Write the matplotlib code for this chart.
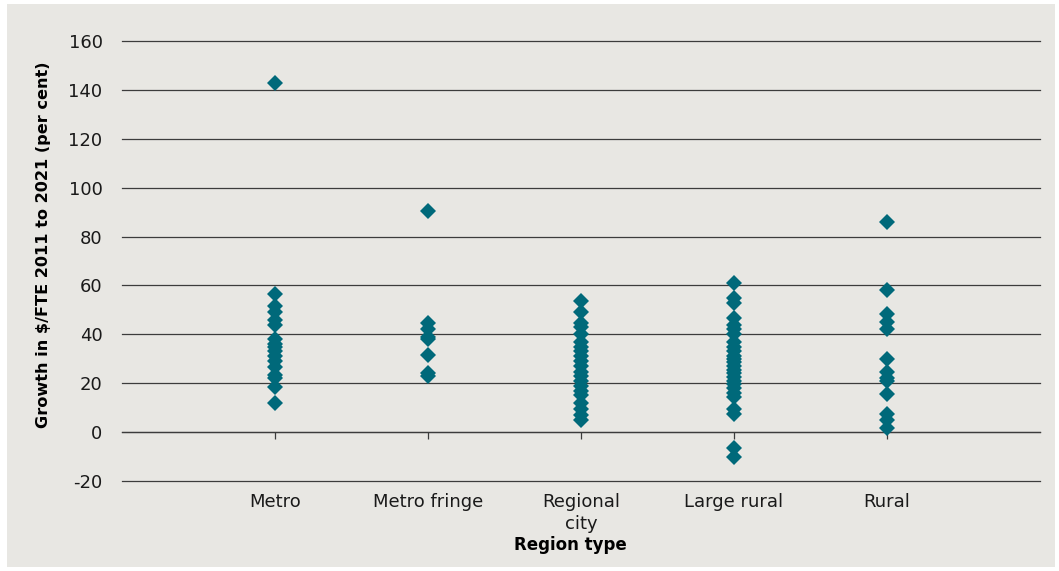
import matplotlib.pyplot as plt
from matplotlib.patches import Rectangle

plt.rcParams['font.family'] = ['DejaVu Sans']
plt.rcParams['axes.unicode_minus'] = False

categories = ['Metro', 'Metro fringe', 'Regional\ncity', 'Large rural', 'Rural']

# growth in $/FTE 2011 to 2021 (per cent)
metro = [143, 56.5, 51.5, 49, 46, 44, 38, 36, 35, 33, 31, 29, 26.5, 23.5, 22,
         18.5, 12]
metro_fringe = [90.5, 44.5, 42, 39, 38, 31.5, 24, 23]
regional_city = [53.5, 49, 44.5, 43, 40, 37, 35, 33, 31, 29, 27, 24.5, 23, 21,
                 19, 17, 15, 12, 9.5, 7, 5]
large_rural = [61, 55, 53, 46.5, 44, 42, 40, 37, 35, 33, 31, 30, 28.5, 27, 25.5,
               24, 22.5, 21, 19.5, 18, 16, 14.5, 9.5, 7.5, -6.5, -10]
rural = [86, 58, 48.5, 45, 42, 30, 24.5, 22, 21, 15.5, 7.5, 5, 1.5]

series = [metro, metro_fringe, regional_city, large_rural, rural]

teal = '#00697a'
bg = '#e8e7e3'

fig = plt.figure(figsize=(10.59, 5.71), dpi=100, facecolor='white')
fig.patches.append(Rectangle((7 / 1059, 4 / 571), 1048 / 1059, 563 / 571,
                             transform=fig.transFigure, facecolor=bg,
                             edgecolor='none', zorder=-10))
ax = fig.add_axes([122 / 1059, 90 / 571, 918 / 1059, 440 / 571])
ax.set_facecolor('none')

for i, vals in enumerate(series):
    ax.plot([i + 1] * len(vals), vals, linestyle='none', marker='D',
            markersize=8.2, color=teal, markeredgewidth=0, zorder=3)

ax.set_xlim(0, 6)
ax.set_ylim(-20, 160)
ax.set_yticks(range(-20, 161, 20))
ax.yaxis.grid(True, color='#3c3c3c', linewidth=0.9)
for gl in ax.get_ygridlines():
    gl.set_clip_on(False)
ax.set_axisbelow(True)
ax.tick_params(axis='y', length=0, pad=14, labelsize=13, colors='#1a1a1a')

for s in ['top', 'right', 'left']:
    ax.spines[s].set_visible(False)
ax.spines['bottom'].set_position(('data', 0))
ax.spines['bottom'].set_color('#3c3c3c')
ax.spines['bottom'].set_linewidth(0.9)

ax.set_xticks(range(1, 6))
ax.set_xticklabels(categories, fontsize=13, color='#1a1a1a', linespacing=1.25)
ax.tick_params(axis='x', direction='out', length=5, width=0.9,
               color='#3c3c3c', pad=39)

ax.set_ylabel('Growth in $/FTE 2011 to 2021 (per cent)', fontsize=11.6,
              fontweight='bold')
ax.yaxis.set_label_coords(-0.077, 0.536)
fig.text(570 / 1059, 1 - 545 / 571, 'Region type', fontsize=12,
         fontweight='bold', ha='center', va='center')

plt.savefig('out.png', dpi=100, facecolor='white')
